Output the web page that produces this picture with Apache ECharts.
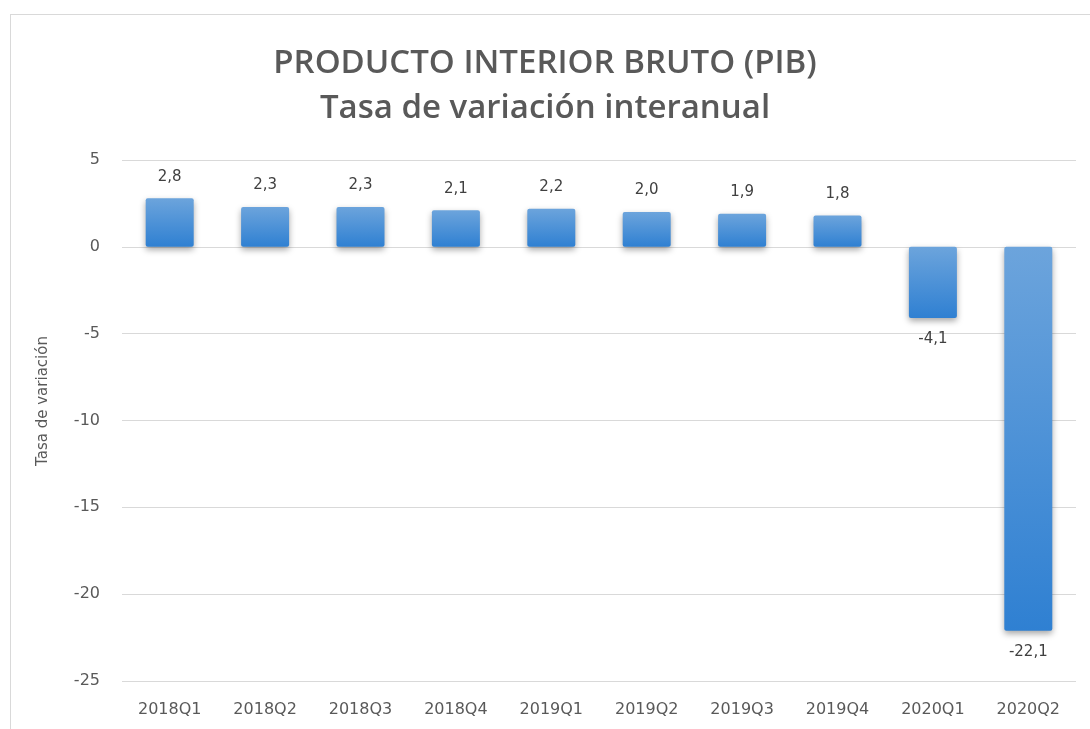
<!DOCTYPE html>
<html><head><meta charset="utf-8">
<script src="https://cdn.jsdelivr.net/npm/echarts@6/dist/echarts.min.js"></script>
<style>
html,body{margin:0;padding:0;background:#fff;}
#frame{position:absolute;left:10px;top:14px;width:1100px;height:730px;border-left:1px solid #d9d9d9;border-top:1px solid #d9d9d9;}
#c{position:absolute;left:0;top:0;width:1090px;height:729px;}
</style></head>
<body>
<div id="frame"></div>
<div id="c"></div>
<script>
const categories = ['2018Q1','2018Q2','2018Q3','2018Q4','2019Q1','2019Q2','2019Q3','2019Q4','2020Q1','2020Q2'];
const values = [2.8, 2.3, 2.3, 2.1, 2.2, 2.0, 1.9, 1.8, -4.1, -22.1];
const yTicks = [-25, -20, -15, -10, -5, 0, 5];

const chart = echarts.init(document.getElementById('c'));
const font = 'DejaVu Sans, sans-serif';
chart.setOption({
  animation: false,
  title: [
    {text: 'PRODUCTO INTERIOR BRUTO (PIB)', left: 'center', top: 42,
     textStyle: {fontSize: 33, fontWeight: 600, color: '#595959', fontFamily: 'Open Sans, sans-serif'}},
    {text: 'Tasa de variación interanual', left: 'center', top: 87,
     textStyle: {fontSize: 33, fontWeight: 600, color: '#595959', fontFamily: 'Open Sans, sans-serif'}}
  ],
  graphic: [{
    type: 'text', x: 43, y: 401, rotation: Math.PI / 2,
    style: {text: 'Tasa de variación', fill: '#595959', fontSize: 15, fontFamily: font,
            align: 'center', verticalAlign: 'middle'}
  }],
  grid: {left: 122, right: 14, top: 160, bottom: 48},
  xAxis: {
    type: 'category', data: categories,
    axisLine: {show: false}, axisTick: {show: false},
    axisLabel: {color: '#595959', fontSize: 16, fontFamily: font, margin: 21}
  },
  yAxis: {
    type: 'value', min: yTicks[0], max: yTicks[yTicks.length-1], interval: 5,
    axisLine: {show: false}, axisTick: {show: false},
    axisLabel: {color: '#595959', fontSize: 16, fontFamily: font, margin: 22},
    splitLine: {lineStyle: {color: '#d9d9d9', width: 1}}
  },
  series: [{
    type: 'bar', data: values, barWidth: 48,
    itemStyle: {
      color: new echarts.graphic.LinearGradient(0,0,0,1,[
        {offset:0, color:'#6ca4dc'}, {offset:1, color:'#2f80d2'}
      ]),
      borderRadius: 2,
      shadowColor: 'rgba(0,0,0,0.35)', shadowBlur: 6, shadowOffsetY: 3
    },
    label: {
      show: true, position: 'outside', distance: 14,
      color: '#404040', fontSize: 15, fontFamily: font,
      formatter: p => p.value.toFixed(1).replace('.', ',')
    }
  }]
});
</script>
</body></html>
